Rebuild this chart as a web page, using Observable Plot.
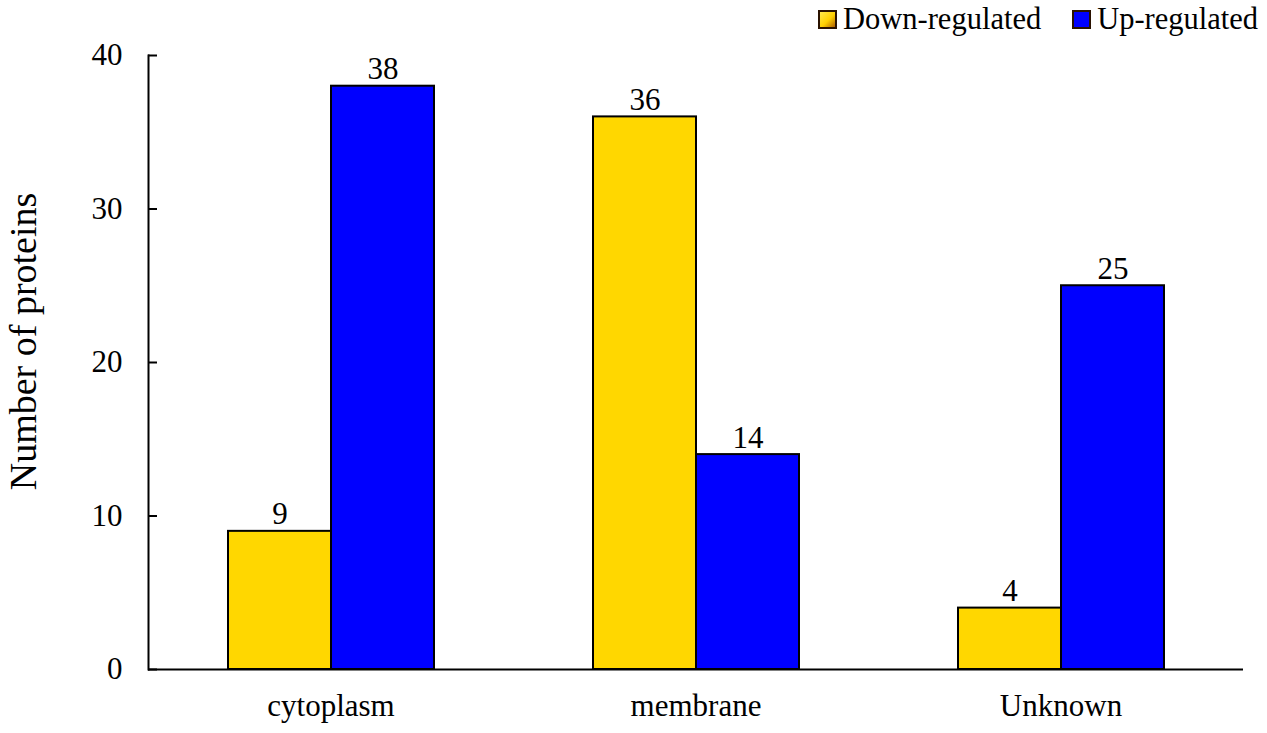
<!DOCTYPE html>
<html><head><meta charset="utf-8">
<script src="https://cdn.jsdelivr.net/npm/d3@7"></script>
<script src="https://cdn.jsdelivr.net/npm/@observablehq/plot@0.6"></script>
<style>
body{margin:0;background:#fff;font-family:"Liberation Serif","Times New Roman",serif;}
#wrap{position:relative;width:1267px;height:733px;}
#legend{position:absolute;top:2px;left:818px;display:flex;align-items:center;font-size:30.5px;color:#000;white-space:nowrap;}
.sw{display:inline-block;width:15px;height:15px;border:2px solid #2a1200;margin-right:6px;}
.item{display:flex;align-items:center;margin-right:31px;}
</style></head>
<body><div id="wrap"><div id="legend"></div></div>
<script>
const categories = ["cytoplasm", "membrane", "Unknown"];
const seriesNames = ["Down-regulated", "Up-regulated"];
const downValues = [9, 36, 4];
const upValues = [38, 14, 25];
const yTicks = [0, 10, 20, 30, 40];
const seriesColors = ["#FFD700", "#0000FF"];
const yTitle = "Number of proteins";

const data = categories.flatMap((c, i) => [
  {cat: c, series: seriesNames[0], value: downValues[i]},
  {cat: c, series: seriesNames[1], value: upValues[i]}
]);

const plot = Plot.plot({
  width: 1267, height: 733,
  marginLeft: 148, marginRight: 24, marginTop: 55, marginBottom: 64,
  style: {fontFamily: "Liberation Serif, Times New Roman, serif", fontSize: "31px", color: "#000", background: "#fff"},
  fx: {domain: categories, padding: 0, label: null},
  x: {domain: seriesNames, paddingInner: 0, paddingOuter: 0.755, axis: null},
  y: {domain: [0, 40], ticks: yTicks},
  color: {domain: seriesNames, range: seriesColors},
  marks: [
    Plot.barY(data, {fx: "cat", x: "series", y: "value", fill: "series", stroke: "#000", strokeWidth: 2}),
    Plot.text(data, {fx: "cat", x: "series", y: "value", text: "value", lineAnchor: "bottom", dy: -7, fontSize: 31, fill: "#000"}),
    Plot.ruleY([0], {stroke: "#000", strokeWidth: 2}),
    Plot.frame({anchor: "left", facetAnchor: "left", stroke: "#000", strokeWidth: 2}),
    Plot.axisFx({anchor: "bottom", tickSize: 0, tickPadding: 24, label: null, fontSize: 31}),
    Plot.axisY(yTicks, {anchor: "left", tickSize: -9, tickPadding: 35, strokeWidth: 2, label: null, fontSize: 31}),
    Plot.text([yTitle], {text: d => d, frameAnchor: "left", textAnchor: "middle", rotate: -90, dx: -125, dy: -21, fontSize: 38, facetAnchor: "left", fill: "#000"})
  ]
});
document.getElementById("wrap").prepend(plot);

const legend = document.getElementById("legend");
seriesNames.forEach((s, i) => {
  const item = document.createElement("div");
  item.className = "item";
  const sw = document.createElement("span");
  sw.className = "sw";
  sw.style.background = i === 0 ? "linear-gradient(135deg,#ffe94d,#ffd000 55%,#b06000)" : seriesColors[i];
  const t = document.createElement("span");
  t.textContent = s;
  item.append(sw, t);
  legend.append(item);
});
</script>
</body></html>
